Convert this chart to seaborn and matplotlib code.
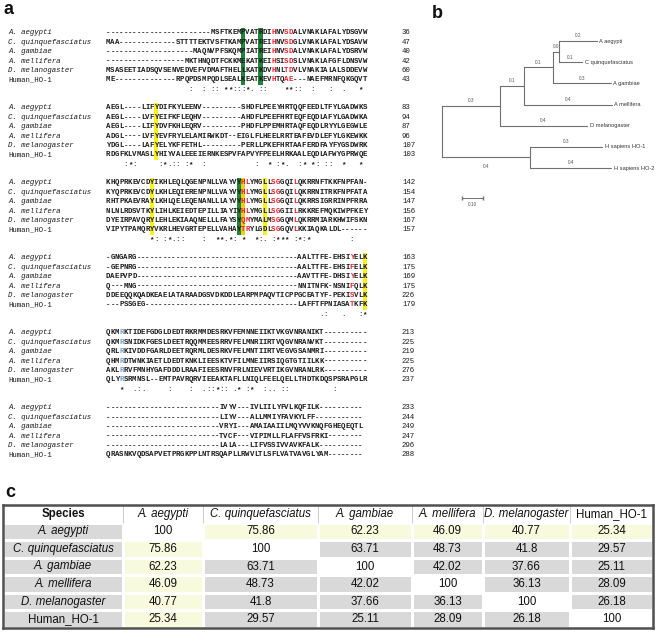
import numpy as np
import pandas as pd
import matplotlib

matplotlib.use("Agg")
import matplotlib.pyplot as plt
import seaborn as sns
from matplotlib.colors import ListedColormap

# ---------------- data: panel a (alignment) ----------------
species = ["A. aegypti", "C. quinquefasciatus", "A. gambiae",
           "A. mellifera", "D. melanogaster", "Human_HO-1"]

aegypti_seq = [
    "------------------------MSFTKEMPVATRDIHNVSDALVNAKLAFALYDSGVW",
    "AEGL----LIFYDIFKYLEENV---------SHDFLPEEYHRTQQFEEDLTFYLGADWKS",
    "KHQPRKEVCDYIKHLEQLQGENPNLLVAYVYHLYMGLLSGGQILQKRRNFTKKFNPFAN-",
    "-GNGARG-------------------------------------AALTTFE-EHSIYELK",
    "QKMRKTIDEFGDGLDEDTRKRMMDESRKVFEMNNEIIKTVKGVNRANIKT----------",
    "--------------------------IVYV---IVLIILYFVLKQFILK----------",
]
quinq_seq = [
    "MAA-------------STTTTEKTVSFTKAMPVATREIHNVSDGLVNAKLAFALYDSAVW",
    "AEGL----LVFYEIFKFLEQHV---------AHDFLPEEFHRTEQFEQDLAFYLGADWKA",
    "KYQPRKEVCDYLKHLEQIERENPNLLVAYVYHLYMGLLSGGQILQKRRNITRKFNPFATA",
    "-GEPNRG-------------------------------------AALTTFE-EHSIFELK",
    "QKMRSNIDKFGESLDEETRQQMMEESRRVFELMNRIIRTVQGVNRANVKT----------",
    "--------------------------LIYV---ALLMMIYFAVKYLFF-----------",
]
gambiae_seq = [
    "--------------------MAQNVPFSKQMPIATREIHNVSDALVNAKLAFALYDSRVW",
    "AEGL----LIFYDVFKHLEQRV---------PHDFLPPEMHRTAQFEQDLRYYLGEGWLE",
    "RHTPKAEVRAYLKHLQELEQENANLLLAYVYHLYMGLLSGGQILQKRRSIGRRINPFRRA",
    "DAEPVPD-------------------------------------AAVTTFE-DHSIYELK",
    "QRLRKIVDDFGARLDEETRQRMLDESRKVFELMNTIIRTVEGVGSANMRI----------",
    "--------------------------VRYI---AMAIAAIILMQYVVKNQFGHEQEQTL",
]
mellifera_seq = [
    "------------------MKTHNQDTFCKKMEKATKEIHSISDSLVNAKLAFGFLDNSVW",
    "ADGL----LVFYEVFRYLELAMIRWKDT--EIGLFLHEELRRTEAFEVDLEFYLGKEWKK",
    "NLNLRDSVTKYLIHLKEIEDTEPILLIAYIYHLYMGLLSGGIILRKKREFMQKIWPFKEY",
    "Q---MNG-------------------------------------NNITNFK-NSNIFQLK",
    "QHMRDTWNKIAETLDEDTKNKLIEESKTVFILMNEIIRSIQGTGTIILKK----------",
    "--------------------------TVCF---VIPIMLLFLAFFVSFRKI--------",
]
melanogaster_seq = [
    "MSASEETIADSQVSENVEDVEFVDMAFTHELLKATKDVHNLTDVLVNAKIALALSDDEVW",
    "YDGL----LAFYELYKFFETHL---------PERLLPKEFHRTAAFERDFAYFYGSDWRK",
    "DYEIRPAVQRYLEHLEKIAAQNELLLFAYSYQMYMALMSGGQMLQKRRMIARKHWIFSKN",
    "DDEEQQKQADKEAELATARAADGSVDKDDLEARPMPAQVTICPPGCEATYF-PEKISVLK",
    "AKLRRVFMNHYGAFDDDLRAAFIEESRNVFRLNIEVVRTIKGVNRANLRK----------",
    "--------------------------LALA---LIFVSSIVVAVKFALK----------",
]
human_seq = [
    "ME--------------RPQPDSMPQDLSEALKEATKEVHTQAE---NAEFMRNFQKGQVT",
    "RDGFKLVMASLYHIYVALEEEIERNKESPVFAPVYFPEELHRKAALEQDLAFWYGPRWQE",
    "VIPYTPAMQRYVKRLHEVGRTEPELLVAHAYTRYLGDLSGGQVLKKIAQKALDL------",
    "---PSSGEG-----------------------------------LAFFTFPNIASATKFK",
    "QLYRSRMNSL--EMTPAVRQRVIEEAKTAFLLNIQLFEELQELLTHDTKDQSPSRAPGLR",
    "QRASNKVQDSAPVETPRGKPPLNTRSQAPLLRWVLTLSFLVATVAVGLYAM--------",
]
consensus = [
    "                   :  : :: **:::*. ::    **::  :   :  .   *",
    "    :*:     :*.:: :*  :           :  * :*.  :* *: ::  *   *",
    "          *: :*.::    :  **.*: *  *:. :*** :*:*         :  ",
    "                                                 .:   .   :*",
    "   *  .:.     :    :  .::*:: .* :*  :.. ::          :      ",
    "",
]

aegypti_num = [36, 83, 142, 163, 213, 233]
quinq_num = [47, 94, 154, 175, 225, 244]
gambiae_num = [40, 87, 147, 169, 219, 249]
mellifera_num = [42, 96, 156, 175, 225, 247]
melanogaster_num = [60, 107, 167, 226, 276, 296]
human_num = [43, 103, 157, 179, 237, 288]

# highlighted alignment columns per block (1-based)
green_cols = [[32, 36], [], [31], [], [], []]
yellow_cols = [[], [12], [11, 37], [60], [], []]
orange_cols = [[], [], [32], [], [], []]
red_cols = [[39, 42, 43], [], [32, 33, 39, 40, 44], [57], [], []]
blue_cols = [[], [], [], [], [4], []]

# ---------------- data: panel b (tree) ----------------
tree_leaves = ["A aegypti", "C quinquefasciatus", "A gambiae", "A mellifera",
               "D melanogaster", "H sapiens HO-1", "H sapiens HO-2"]
leaf_len = [0.177, 0.11, 0.27, 0.41, 0.405, 0.335, 0.377]
leaf_len_txt = ["0.2", "0.1", "0.3", "0.4", "0.4", "0.3", "0.4"]
clades = [[0, 1], [0, 1, 2], [0, 1, 2, 3], [0, 1, 2, 3, 4], [5, 6]]
clade_len = [0.028, 0.135, 0.11, 0.27, 0.41]
clade_len_txt = ["0.0", "0.1", "0.1", "0.3", "0.4"]

# ---------------- data: panel c (identity table) ----------------
table_cols = ["A. aegypti", "C. quinquefasciatus", "A. gambiae",
              "A. mellifera", "D. melanogaster", "Human_HO-1"]
identity = [
    [100, 75.86, 62.23, 46.09, 40.77, 25.34],
    [75.86, 100, 63.71, 48.73, 41.8, 29.57],
    [62.23, 63.71, 100, 42.02, 37.66, 25.11],
    [46.09, 48.73, 42.02, 100, 36.13, 28.09],
    [40.77, 41.8, 37.66, 36.13, 100, 26.18],
    [25.34, 29.57, 25.11, 28.09, 26.18, 100],
]

# ---------------- figure ----------------
sns.set_theme(style="white")
plt.rcParams["font.family"] = ["Liberation Sans", "DejaVu Sans"]
MONO = "Liberation Mono"
W, H = 658, 632
fig = plt.figure(figsize=(W / 100, H / 100), dpi=100)


def fig_box(x0, y0, x1, y1):
    return [x0 / W, 1 - y1 / H, (x1 - x0) / W, (y1 - y0) / H]


# ---- panel a: alignment drawn as a character heatmap ----
seqs = [aegypti_seq, quinq_seq, gambiae_seq, mellifera_seq, melanogaster_seq, human_seq]
nums = [aegypti_num, quinq_num, gambiae_num, mellifera_num, melanogaster_num, human_num]
n_blocks, ncol, rows_per_block = 6, 60, 8
nrow = n_blocks * rows_per_block
chars = np.full((nrow, ncol), " ", dtype=object)
bg = np.zeros((nrow, ncol))
fg = np.zeros((nrow, ncol), dtype=int)
for b in range(n_blocks):
    base = b * rows_per_block
    for s in range(6):
        chars[base + s] = list(seqs[s][b].ljust(ncol))
        for c in green_cols[b]:
            bg[base + s, c - 1] = 1
        for c in yellow_cols[b]:
            bg[base + s, c - 1] = 2
        for c in orange_cols[b]:
            bg[base + s, c - 1] = 3
        for c in red_cols[b]:
            fg[base + s, c - 1] = 1
        for c in blue_cols[b]:
            fg[base + s, c - 1] = 2
    chars[base + 6] = list(consensus[b].ljust(ncol)[:ncol])

ax_aln = fig.add_axes(fig_box(106, 28.3, 367, 28.3 + nrow * 9.375))
sns.heatmap(bg, cmap=ListedColormap(["white", "#22843a", "#f6f21e", "#f2cc1a"]),
            vmin=-0.5, vmax=3.5, cbar=False, annot=chars, fmt="",
            annot_kws=dict(fontsize=5.3, family=MONO, fontweight="bold"),
            xticklabels=False, yticklabels=False, ax=ax_aln)
text_colors = ["#1a1a1a", "#e0202a", "#6f9fd3"]
for txt, code in zip(ax_aln.texts, fg.flat):
    txt.set_color(text_colors[code])

name_x = (8 - 106) / 4.35
num_x = (402 - 106) / 4.35
for b in range(n_blocks):
    for s in range(6):
        row = b * rows_per_block + s + 0.5
        ax_aln.text(name_x, row, species[s], family=MONO, fontsize=5.3,
                    fontstyle="normal" if s == 5 else "italic",
                    va="center", ha="left", color="#1a1a1a", clip_on=False)
        ax_aln.text(num_x, row, str(nums[s][b]), family=MONO, fontsize=5.3,
                    va="center", ha="left", color="#1a1a1a", clip_on=False)

# ---- panel b: distance tree ----
ax_tree = fig.add_axes(fig_box(430, 20, 658, 215))
groups = [frozenset([i]) for i in range(len(tree_leaves))] + [frozenset(c) for c in clades]
lengths = leaf_len + clade_len
len_txt = leaf_len_txt + clade_len_txt
root = frozenset(range(len(tree_leaves)))
segs, blabels, leaf_ends = [], [], {}


def children(g):
    subs = [h for h in groups if h < g]
    return sorted([h for h in subs if not any(h < k for k in subs)], key=min)


def place(g, x0, below=False):
    k = groups.index(g) if g in groups else None
    x1 = x0 + (lengths[k] if k is not None else 0.0)
    if len(g) == 1:
        y = float(min(g))
        leaf_ends[min(g)] = x1
    else:
        kids = children(g)
        ys = [place(h, x1, below=(g == root and i == len(kids) - 1))
              for i, h in enumerate(kids)]
        y = (min(ys) + max(ys)) / 2
        segs.append([(x1, min(ys)), (x1, max(ys))])
    if k is not None:
        segs.append([(x0, y), (x1, y)])
        blabels.append(((x0 + x1) / 2, y, len_txt[k], below))
    return y


place(root, 0.0)
seg_df = pd.DataFrame([dict(seg=i, x=p[0], y=p[1]) for i, s in enumerate(segs) for p in s])
sns.lineplot(data=seg_df, x="x", y="y", units="seg", estimator=None, sort=False,
             color="#707070", linewidth=0.8, ax=ax_tree)
for x, y, t, below in blabels:
    ax_tree.text(x, y + (0.3 if below else -0.12), t, fontsize=3.4, color="#555555",
                 ha="center", va="top" if below else "bottom")
for i, name in enumerate(tree_leaves):
    ax_tree.text(leaf_ends[i] + 0.012, i, name, fontsize=4.1, color="#333333",
                 ha="left", va="center")
ax_tree.plot([0.093, 0.193], [7.42, 7.42], color="#707070", lw=0.7,
             marker="|", markersize=2.5)
ax_tree.text(0.143, 7.62, "0.10", fontsize=3.4, color="#555555", ha="center", va="top")
ax_tree.set_xlim(-12 / 215, 216 / 215)
ax_tree.set_ylim((215 - 41) / 21.17, (20 - 41) / 21.17)
ax_tree.set_axis_off()

# ---- panel c: identity table ----
ax_tab = fig.add_axes(fig_box(3, 505, 653, 628))
col_edges = np.array([3, 123, 203, 318, 412, 483, 570, 653]) - 3.0
n = len(table_cols)
codes = np.zeros((n + 1, n + 1))
codes[1:, 0] = 2
for i in range(n):
    for j in range(n):
        codes[i + 1, j + 1] = 0 if i == j else (1 if i == 0 or j == 0 else 2)
ax_tab.pcolormesh(col_edges, np.arange(n + 2), codes,
                  cmap=ListedColormap(["white", "#f8fadd", "#d9d9d9"]),
                  vmin=-0.5, vmax=2.5, edgecolors="white", linewidth=1.0)
ax_tab.vlines(col_edges[1:-1], 0, 1, color="#c4c4c4", lw=0.6)
centers = (col_edges[:-1] + col_edges[1:]) / 2
ax_tab.text(centers[0], 0.5, "Species", ha="center", va="center",
            fontsize=8.3, fontweight="bold", color="#111111")
for j, name in enumerate(table_cols):
    style = "normal" if name.startswith("Human") else "italic"
    ax_tab.text(centers[j + 1], 0.5, name, ha="center", va="center",
                fontsize=8.3, fontstyle=style, color="#111111")
    ax_tab.text(centers[0], j + 1.5, name, ha="center", va="center",
                fontsize=8.3, fontstyle=style, color="#111111")
for i in range(n):
    for j in range(n):
        ax_tab.text(centers[j + 1], i + 1.5, f"{identity[i][j]:g}", ha="center",
                    va="center", fontsize=8.3, color="#111111")
ax_tab.set_xlim(col_edges[0], col_edges[-1])
ax_tab.set_ylim(n + 1, 0)
ax_tab.set_xticks([])
ax_tab.set_yticks([])
for sp in ax_tab.spines.values():
    sp.set_visible(True)
    sp.set_color("#505050")
    sp.set_linewidth(1.8)

# ---- panel letters ----
for x, y, letter in [(4, 14, "a"), (432, 18, "b"), (5, 497, "c")]:
    fig.text(x / W, 1 - y / H, letter, fontsize=13, fontweight="bold",
             ha="left", va="baseline", color="#111111")

fig.savefig("out.png", dpi=100)
